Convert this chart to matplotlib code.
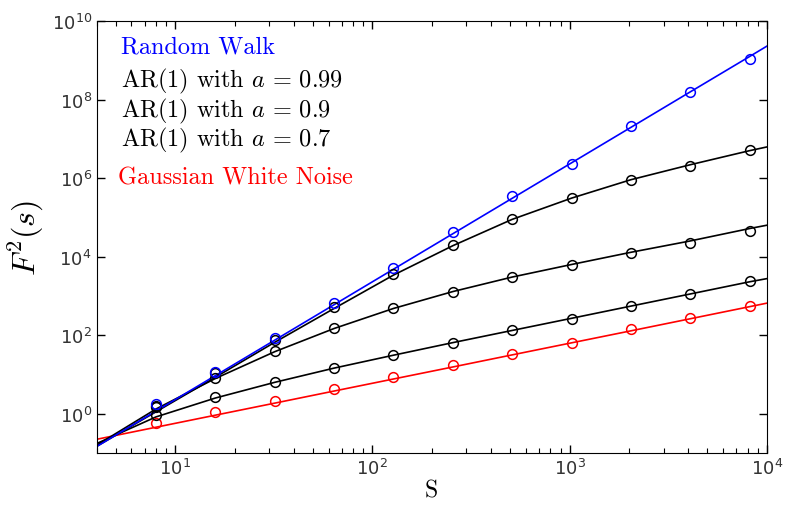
import numpy as np
import matplotlib.pyplot as plt
from matplotlib.ticker import NullLocator, LogLocator

plt.rcParams['mathtext.fontset'] = 'cm'

# scales where the circles (simulated data) sit
s_pts = [8, 16, 32, 64, 128, 256, 512, 1024, 2048, 4096, 8192]
rw_pts = [1.77, 11.7, 87, 679, 5270, 4.23e4, 3.5e5, 2.32e6, 2.14e7, 1.6e8, 1.06e9]
a99_pts = [1.55, 11.1, 76, 537, 3700, 1.98e4, 9.3e4, 3.1e5, 9.2e5, 2.0e6, 5.1e6]
a9_pts = [1.45, 7.9, 40, 154, 486, 1262, 2990, 6100, 1.25e4, 2.18e4, 4.5e4]
a7_pts = [0.92, 2.7, 6.3, 14.8, 31, 65, 134, 255, 553, 1100, 2400]
wn_pts = [0.58, 1.11, 2.14, 4.2, 8.8, 17.3, 33.5, 65, 140, 271, 556]

s_line = [4, 8, 16, 32, 64, 128, 256, 512, 1024, 2048, 4096, 8192, 10000]
rw_line = [0.146, 1.17, 9.35, 74.8, 598, 4790, 3.83e4, 3.06e5, 2.45e6, 1.96e7, 1.57e8, 1.25e9, 2.28e9]
a99_line = [0.148, 1.12, 8.5, 66, 479, 3390, 1.9e4, 8.9e4, 3.09e5, 9.1e5, 2.19e6, 5.0e6, 6.2e6]
a9_line = [0.158, 1.32, 7.9, 38, 148, 479, 1290, 3020, 6310, 1.29e4, 2.51e4, 5.2e4, 6.3e4]
a7_line = [0.174, 0.83, 2.51, 6.3, 14.5, 30.9, 64.6, 132, 269, 550, 1120, 2290, 2750]
wn_line = [0.223, 0.453, 0.918, 1.86, 3.78, 7.66, 15.5, 31.5, 63.8, 129, 262, 532, 653]

fig = plt.figure(figsize=(7.86, 5.06), dpi=100)
ax = fig.add_axes([0.123, 0.1028, 0.8525, 0.8537])

ax.plot(s_line, wn_line, color='red', lw=1.2)
ax.plot(s_line, a7_line, color='black', lw=1.2)
ax.plot(s_line, a9_line, color='black', lw=1.2)
ax.plot(s_line, a99_line, color='black', lw=1.2)
ax.plot(s_line, rw_line, color='blue', lw=1.2)

mk = dict(ls='none', marker='o', mfc='none', ms=7, mew=1.1)
ax.plot(s_pts, wn_pts, mec='red', **mk)
ax.plot(s_pts, a7_pts, mec='black', **mk)
ax.plot(s_pts, a9_pts, mec='black', **mk)
ax.plot(s_pts, a99_pts, mec='black', **mk)
ax.plot(s_pts, rw_pts, mec='blue', **mk)

ax.set_xscale('log')
ax.set_yscale('log')
ax.set_xlim(4, 1e4)
ax.set_ylim(1e-1, 1e10)
ax.set_yticks([1e0, 1e2, 1e4, 1e6, 1e8, 1e10])
ax.yaxis.set_minor_locator(NullLocator())
ax.xaxis.set_minor_locator(LogLocator(base=10, subs=np.arange(2, 10)))
ax.tick_params(which='both', direction='in', top=True, right=True,
               labelsize=13, labelcolor='#333333')
ax.tick_params(which='major', length=6, width=1)
ax.tick_params(which='minor', length=3.5, width=0.8)

ax.set_xlabel('S', fontname='cmr10', fontsize=17, labelpad=1)
ax.set_ylabel('$F^2(s)$', fontsize=23, labelpad=4)

tx = dict(transform=ax.transAxes, fontname='cmr10', fontsize=17.5, va='baseline')
ax.text(0.036, 0.926, 'Random Walk', color='blue', **tx)
ax.text(0.036, 0.848, r'AR(1) with $a\,=\,0.99$', color='black', **tx)
ax.text(0.036, 0.779, r'AR(1) with $a\,=\,0.9$', color='black', **tx)
ax.text(0.036, 0.711, r'AR(1) with $a\,=\,0.7$', color='black', **tx)
ax.text(0.032, 0.625, 'Gaussian White Noise', color='red', **tx)

plt.savefig('out.png', dpi=100)
